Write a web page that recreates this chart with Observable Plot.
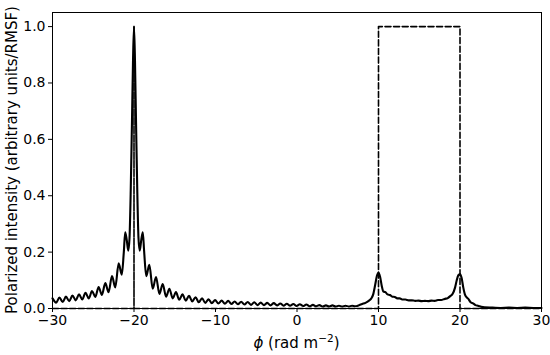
<!DOCTYPE html>
<html>
<head>
<meta charset="utf-8">
<script src="https://cdn.jsdelivr.net/npm/d3@7"></script>
<script src="https://cdn.jsdelivr.net/npm/@observablehq/plot@0.6"></script>
<style>
  html, body { margin: 0; padding: 0; background: #fff; }
  #chart { width: 550px; height: 355px; }
</style>
</head>
<body>
<div id="chart"></div>
<script>
// Axis ticks
const xTicks = [-30, -20, -10, 0, 10, 20, 30];
const yTicks = [0.0, 0.2, 0.4, 0.6, 0.8, 1.0];
const xLabelText = "(rad m";
const yLabelText = "Polarized intensity (arbitrary units/RMSF)";

// Model Faraday dispersion (dashed): delta at -20, box 10..20
const modelPhi = [-30, -20, -20, -20, 10, 10, 20, 20, 30];
const modelP   = [0, 0, 1, 0, 0, 1, 1, 0, 0];

// Reconstructed polarized intensity (solid) as [phi, P]
const leftWing = [
  [-30.00, 0.036], [-29.55, 0.021], [-29.15, 0.039], [-28.75, 0.023], [-28.35, 0.042],
  [-27.95, 0.026], [-27.55, 0.046], [-27.15, 0.029], [-26.75, 0.050], [-26.35, 0.032],
  [-25.95, 0.056], [-25.55, 0.036], [-25.15, 0.062], [-24.75, 0.041], [-24.34, 0.076],
  [-23.94, 0.048], [-23.52, 0.090], [-23.12, 0.058], [-22.70, 0.115], [-22.30, 0.075],
  [-21.88, 0.160], [-21.50, 0.120], [-21.25, 0.200], [-21.08, 0.270], [-20.90, 0.245]
];
const mainLobe = [
  [-20.70, 0.205], [-20.55, 0.250], [-20.40, 0.420], [-20.25, 0.660], [-20.12, 0.880],
  [-20.00, 1.000],
  [-19.88, 0.880], [-19.75, 0.660], [-19.60, 0.420], [-19.45, 0.250], [-19.30, 0.205]
];
const rightWing = [
  [-19.10, 0.245], [-18.92, 0.270], [-18.75, 0.200], [-18.50, 0.115], [-18.12, 0.155],
  [-17.70, 0.070], [-17.30, 0.112], [-16.88, 0.052], [-16.48, 0.087], [-16.06, 0.042],
  [-15.66, 0.070], [-15.25, 0.036], [-14.85, 0.058], [-14.45, 0.031], [-14.05, 0.050],
  [-13.65, 0.028], [-13.25, 0.045], [-12.85, 0.025], [-12.45, 0.040], [-12.05, 0.022],
  [-11.65, 0.036], [-11.25, 0.020], [-10.85, 0.033], [-10.45, 0.019], [-10.05, 0.030]
];
const midPlateau = [
  [-9.65, 0.018], [-9.25, 0.028], [-8.85, 0.017], [-8.45, 0.027], [-8.05, 0.016],
  [-7.65, 0.025], [-7.25, 0.015], [-6.85, 0.024], [-6.45, 0.014], [-6.05, 0.023],
  [-5.65, 0.013], [-5.25, 0.022], [-4.85, 0.012], [-4.45, 0.021], [-4.05, 0.012],
  [-3.65, 0.020], [-3.25, 0.011], [-2.85, 0.019], [-2.45, 0.011], [-2.05, 0.018],
  [-1.65, 0.010], [-1.25, 0.017], [-0.85, 0.010], [-0.45, 0.016], [-0.05, 0.009],
  [0.35, 0.015], [0.75, 0.009], [1.15, 0.014], [1.55, 0.008], [1.95, 0.013],
  [2.35, 0.008], [2.75, 0.012], [3.15, 0.007], [3.55, 0.011], [3.95, 0.007],
  [4.35, 0.011], [4.75, 0.007], [5.15, 0.010], [5.55, 0.007], [5.95, 0.010],
  [6.35, 0.007], [6.75, 0.010], [7.15, 0.008], [7.55, 0.011]
];
const boxResponse = [
  [8.00, 0.016], [8.40, 0.020], [8.80, 0.027], [9.10, 0.035], [9.35, 0.050],
  [9.60, 0.085], [9.80, 0.115], [10.00, 0.127], [10.20, 0.112], [10.40, 0.080],
  [10.60, 0.060], [10.85, 0.058], [11.10, 0.050], [11.40, 0.048], [11.70, 0.042],
  [12.00, 0.041], [12.30, 0.036], [12.60, 0.036], [12.90, 0.032], [13.30, 0.032],
  [13.70, 0.029], [14.10, 0.029], [14.50, 0.027], [14.90, 0.028], [15.30, 0.026],
  [15.70, 0.027], [16.10, 0.026], [16.50, 0.028], [16.90, 0.027], [17.30, 0.030],
  [17.70, 0.030], [18.10, 0.034], [18.50, 0.037], [18.80, 0.044], [19.10, 0.052],
  [19.40, 0.075], [19.60, 0.100], [19.80, 0.118], [20.00, 0.122], [20.20, 0.108],
  [20.40, 0.075], [20.60, 0.050], [20.80, 0.040], [21.00, 0.035], [21.30, 0.022],
  [21.60, 0.018], [21.90, 0.012], [22.20, 0.010], [22.60, 0.006], [23.00, 0.004]
];
const tail = [
  [24.0, 0.003], [25.0, 0.002], [26.0, 0.003], [27.0, 0.002], [28.0, 0.003],
  [29.0, 0.002], [30.0, 0.002]
];

const curve = [...leftWing, ...mainLobe, ...rightWing, ...midPlateau, ...boxResponse, ...tail]
  .map(([phi, p]) => ({phi, p}));
const model = modelPhi.map((phi, i) => ({phi, p: modelP[i]}));

const fmtX = d => d < 0 ? "\u2212" + Math.abs(d) : String(d);

const svg = Plot.plot({
  width: 550,
  height: 355,
  marginLeft: 52,
  marginRight: 9,
  marginTop: 12,
  marginBottom: 47,
  style: {fontFamily: "'DejaVu Sans', sans-serif", fontSize: "14px", color: "black", background: "white"},
  x: {domain: [-30, 30], ticks: xTicks, tickFormat: fmtX, label: null},
  y: {domain: [0, 1.05], ticks: yTicks, tickFormat: d3.format(".1f"), label: null},
  marks: [
    Plot.line(curve, {x: "phi", y: "p", stroke: "black", strokeWidth: 2.1, curve: "monotone-x"}),
    Plot.line(model, {x: "phi", y: "p", stroke: "black", strokeWidth: 1.6, strokeDasharray: "6,2.6"}),
    Plot.frame({stroke: "black", strokeWidth: 1}),
    Plot.axisX({ticks: xTicks, tickFormat: fmtX, tickSize: 4, tickPadding: 3, label: null, fontSize: 14}),
    Plot.axisY({ticks: yTicks, tickFormat: d3.format(".1f"), tickSize: 4, tickPadding: 3, label: null, fontSize: 14})
  ]
});

const s = d3.select(svg);
// x axis label with italic phi and superscript
const xl = s.append("text")
  .attr("x", 52 + (541 - 52) / 2)
  .attr("y", 348)
  .attr("text-anchor", "middle")
  .attr("font-size", 15)
  .attr("font-family", "'DejaVu Sans', sans-serif")
  .attr("fill", "black");
xl.append("tspan").attr("font-style", "italic").text("\u03D5");
xl.append("tspan").text(" " + xLabelText);
xl.append("tspan").attr("font-size", 10.5).attr("dy", -6).text("\u22122");
xl.append("tspan").attr("dy", 6).text(")");

// y axis label
s.append("text")
  .attr("transform", `translate(17, ${12 + (308 - 12) / 2}) rotate(-90)`)
  .attr("text-anchor", "middle")
  .attr("font-size", 15)
  .attr("font-family", "'DejaVu Sans', sans-serif")
  .attr("fill", "black")
  .text(yLabelText);

document.getElementById("chart").appendChild(svg);
</script>
</body>
</html>
